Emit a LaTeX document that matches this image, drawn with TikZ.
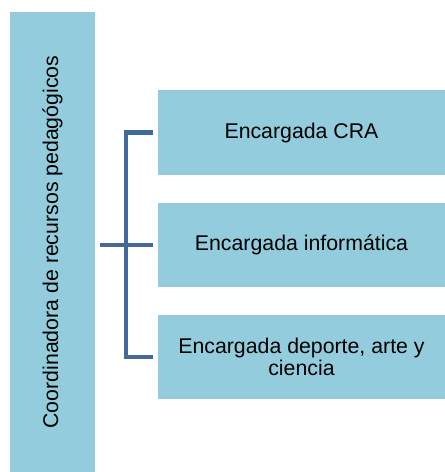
\documentclass[tikz,border=0pt]{standalone}
\usepackage{fontspec}
\setmainfont{Liberation Sans}
\usetikzlibrary{positioning}
\definecolor{cajaazul}{HTML}{93CDDD}
\definecolor{lineaazul}{HTML}{41699A}
\tikzset{
	caja/.style={fill=cajaazul,inner sep=0pt,align=center,font=\fontsize{21.3}{22.5}\selectfont},
	llave/.style={draw=lineaazul,line width=4.5pt,line join=miter}
}
\begin{document}
\begin{tikzpicture}[x=1pt,y=-1pt]
		\useasboundingbox (0,0) rectangle (445,472);
		\node[caja,rotate=90,minimum width=460pt,minimum height=85pt] (coord) at (52.5,242) {Coordinadora de recursos pedagógicos};
		\node[caja,minimum width=287pt,minimum height=85pt] (cra) at (301.5,132.5) {Encargada CRA};
		\node[caja,minimum width=287pt,minimum height=84pt] (inf) at (301.5,245) {Encargada informática};
		\node[caja,minimum width=287pt,minimum height=84pt] (dep) at (301.5,357) {Encargada deporte, arte y\\ciencia};
		\coordinate (arriba) at (126,132.5);
		\coordinate (abajo) at (126,357);
		\draw[llave] ([xshift=-5pt]cra.west)--(arriba)--(abajo)--([xshift=-5pt]dep.west);
		\draw[llave] ([xshift=5pt]coord.south |- inf.west)--([xshift=-5pt]inf.west);
	\end{tikzpicture}
\end{document}
